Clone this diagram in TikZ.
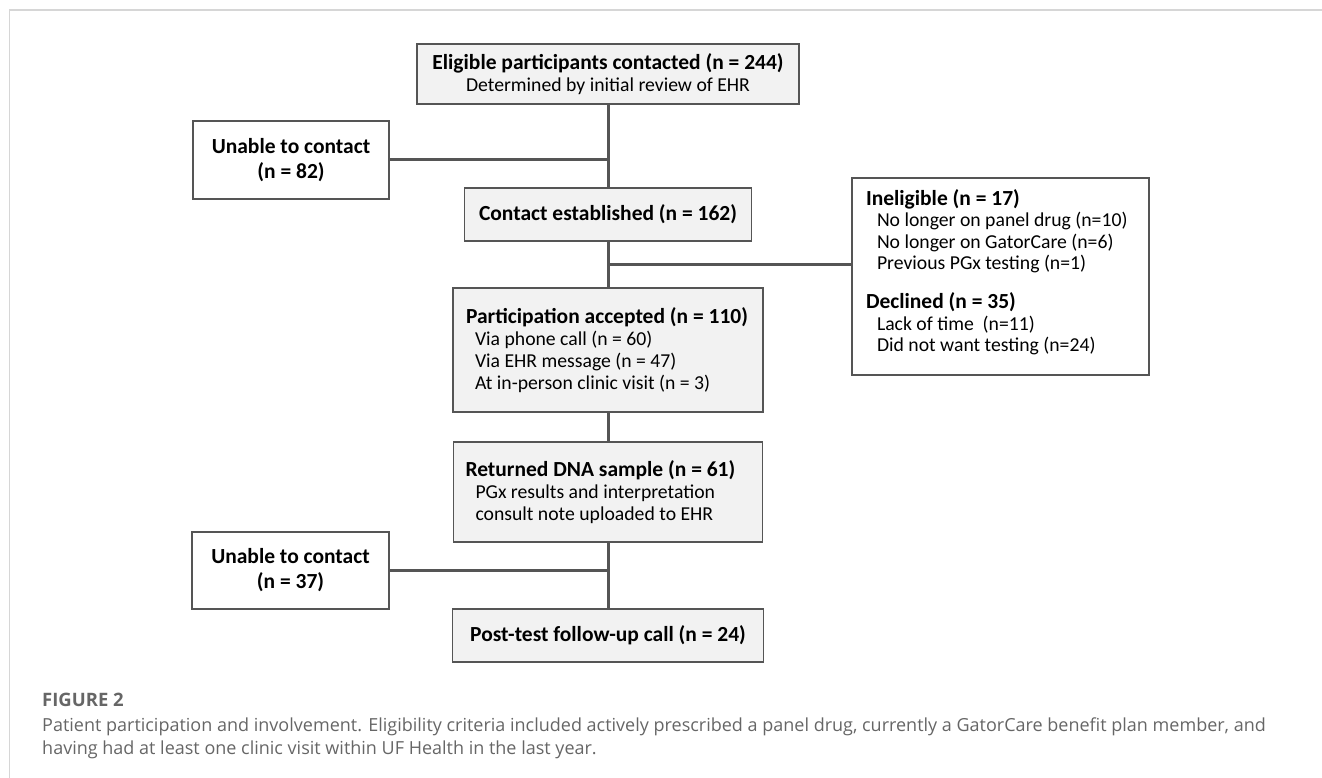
\documentclass[tikz,border=0pt]{standalone}
\usepackage{fontspec}
\usepackage{xcolor}
\setmainfont{Carlito}
\newfontfamily\capfont{Open Sans}
\newcommand\hd{\fontsize{21.5}{22}\selectfont\bfseries}
\definecolor{boxfill}{HTML}{F2F2F2}
\definecolor{edgegray}{HTML}{555555}
\definecolor{capgray}{HTML}{666666}
\definecolor{framegray}{HTML}{D6D6D6}

\begin{document}
\begin{tikzpicture}[x=1pt,y=-1pt,
  box/.style={draw=edgegray, line width=1.4pt, fill=boxfill, inner sep=0pt, align=center,
    font=\fontsize{19.7}{22}\selectfont},
  whitebox/.style={box, fill=white, font=\fontsize{19.7}{25}\selectfont},
  listbox/.style={box, align=flush left, inner xsep=#1, inner ysep=0pt},
  link/.style={draw=edgegray, line width=3pt},
]
\useasboundingbox (0,0) rectangle (1322,778);
\draw [framegray, line width=2pt] (9,10) -- (1322,10);
\draw [framegray, line width=1pt] (9,10) -- (9,778);

\node [box, minimum width=382pt, minimum height=60pt] (elig) at (608,74)
  {{\hd Eligible participants contacted (n = 244)}\\Determined by initial review of EHR};
\node [whitebox, minimum width=196pt, minimum height=78pt] (lost1) at (291,160)
  {{\hd Unable to contact}\\{\hd (n = 82)}};
\node [box, minimum width=287pt, minimum height=53pt] (contact) at (608,214.5)
  {{\hd Contact established (n = 162)}};
\node [listbox=14pt, fill=white, text width=269pt, minimum height=197pt,
  font=\fontsize{19.7}{21.5}\selectfont] (excl) at (1000.5,276.5)
  {{\hd Ineligible (n = 17)}\\
   \hspace*{11pt}No longer on panel drug (n=10)\\
   \hspace*{11pt}No longer on GatorCare (n=6)\\
   \hspace*{11pt}Previous PGx testing (n=1)\\[17.5pt]
   {\hd Declined (n = 35)}\\
   \hspace*{11pt}Lack of time~ (n=11)\\
   \hspace*{11pt}Did not want testing (n=24)\\[-10pt]
   \mbox{}};
\node [listbox=13pt, text width=284pt, minimum height=124pt] (accept) at (608,350)
  {{\hd Participation accepted (n = 110)}\\
   \hspace*{9pt}Via phone call (n = 60)\\
   \hspace*{9pt}Via EHR message (n = 47)\\
   \hspace*{9pt}At in-person clinic visit (n = 3)};
\node [listbox=12pt, text width=285pt, minimum height=100pt] (sample) at (608,492)
  {{\hd Returned DNA sample (n = 61)}\\
   \hspace*{10pt}PGx results and interpretation\\
   \hspace*{10pt}consult note uploaded to EHR};
\node [whitebox, minimum width=197pt, minimum height=77pt] (lost2) at (290.5,570.5)
  {{\hd Unable to contact}\\{\hd (n = 37)}};
\node [box, minimum width=311pt, minimum height=53pt] (follow) at (608,635.5)
  {{\hd Post-test follow-up call (n = 24)}};

\coordinate (split) at (608,264);
\draw [link] (elig.south) -- (contact.north);
\draw [link] (lost1.east) -- (lost1.east -| elig.south);
\draw [link] (contact.south) -- (accept.north);
\draw [link] (split) -- (split -| excl.west);
\draw [link] (accept.south) -- (sample.north);
\draw [link] (sample.south) -- (follow.north);
\draw [link] (lost2.east) -- (lost2.east -| sample.south);

\node [anchor=west, inner sep=0pt, text=capgray, font=\capfont\bfseries\fontsize{18.5}{22}\selectfont] (figno) at (42,700) {FIGURE 2};
\node [anchor=north west, inner sep=0pt, align=flush left, text=capgray,
  font=\capfont\fontsize{18}{22.5}\selectfont] (caption) at (42,718)
  {Patient participation and involvement. Eligibility criteria included actively prescribed a panel drug, currently a GatorCare benefit plan member, and\\
   having had at least one clinic visit within UF Health in the last year.};
\end{tikzpicture}
\end{document}
